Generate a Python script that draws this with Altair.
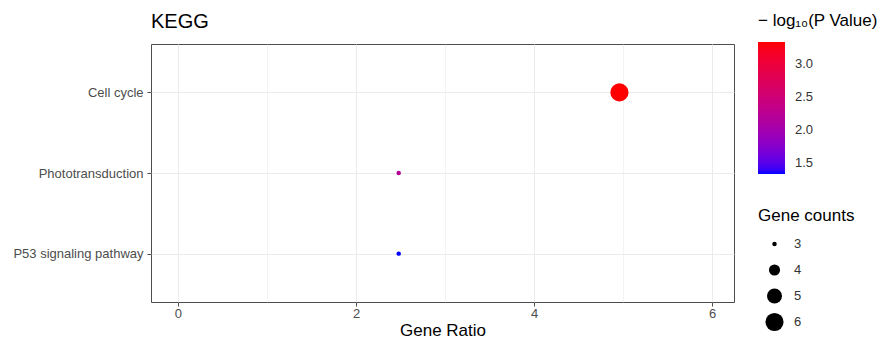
import altair as alt
import pandas as pd

pathways = ["Cell cycle", "Phototransduction", "P53 signaling pathway"]
gene_ratio = [4.96, 2.48, 2.48]
neg_log_p = [3.33, 2.2, 1.33]
gene_counts = [6, 3, 3]

df = pd.DataFrame({
    "Pathway": pathways,
    "GeneRatio": gene_ratio,
    "NegLogP": neg_log_p,
    "Count": gene_counts,
})

FONT = "Liberation Sans"

chart = alt.Chart(df).mark_circle(opacity=1).encode(
    x=alt.X("GeneRatio:Q", title="Gene Ratio",
            scale=alt.Scale(domain=[-0.303, 6.247], nice=False, zero=False),
            axis=alt.Axis(values=[0, 1, 2, 3, 4, 5, 6],
                          labelExpr="datum.value % 2 == 0 ? datum.label : ''",
                          tickOpacity={"condition": {"test": "datum.value % 2 == 0", "value": 1}, "value": 0},
                          gridWidth={"condition": {"test": "datum.value % 2 == 0", "value": 1}, "value": 0.6},
                          labelFlush=False, labelPadding=1, titlePadding=2)),
    y=alt.Y("Pathway:N", title=None, sort=pathways,
            scale=alt.Scale(type="point", padding=0.6),
            axis=alt.Axis(grid=True)),
    color=alt.Color("NegLogP:Q",
                    scale=alt.Scale(range=["#0000ff", "#ff0000"], interpolate="lab",
                                    domain=[1.33, 3.33], nice=False, zero=False),
                    legend=alt.Legend(title="\u2212 log\u2081\u2080(P Value)", values=[1.5, 2.0, 2.5, 3.0],
                                      format=".1f", gradientLength=132, gradientThickness=27,
                                      gradientStrokeWidth=0, orient="none",
                                      legendX=607, legendY=-31, titlePadding=12, labelOffset=10)),
    size=alt.Size("Count:Q",
                  scale=alt.Scale(domain=[3, 6], range=[20, 330], zero=False, nice=False),
                  legend=alt.Legend(title="Gene counts", values=[3, 4, 5, 6], format="d",
                                    symbolFillColor="black", symbolStrokeWidth=0,
                                    symbolType="circle", orient="none",
                                    legendX=607, legendY=164, clipHeight=26, rowPadding=0,
                                    titlePadding=6, labelOffset=10, symbolOffset=7)),
).properties(
    width=583, height=258,
    title=alt.TitleParams("KEGG", anchor="start", frame="group", fontSize=20, font=FONT,
                          fontWeight="normal", color="black", offset=-19),
).configure(
    padding={"left": 12, "top": 12, "right": 0, "bottom": 0}
).configure_view(
    stroke="#4d4d4d", strokeWidth=1
).configure_axis(
    domain=False, gridColor="#ebebeb", tickColor="#4d4d4d", tickSize=4,
    labelFont=FONT, labelFontSize=13, labelColor="#4d4d4d", labelPadding=3,
    titleFont=FONT, titleFontSize=17, titleFontWeight="normal", titleColor="black",
).configure_axisY(
    labelPadding=4
).configure_legend(
    titleFont=FONT, titleFontSize=17, titleFontWeight="normal", titleColor="black",
    labelFont=FONT, labelFontSize=13, labelColor="#333333",
    titleLimit=200
)

chart.save("out.html", embed_options={"renderer": "svg", "actions": False})
